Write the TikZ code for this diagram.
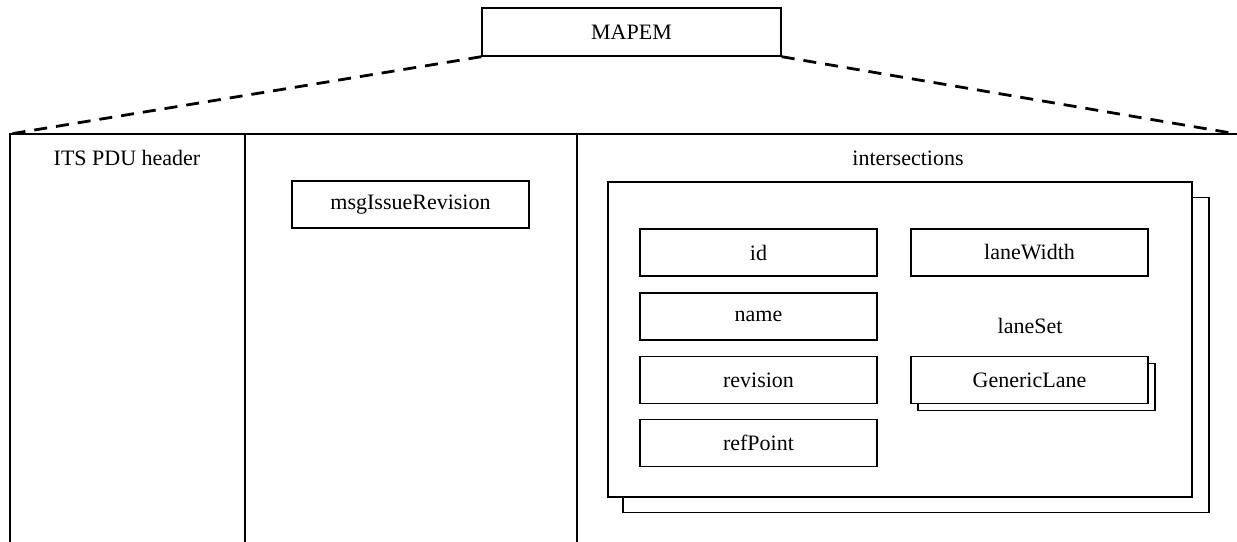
\documentclass[tikz,border=0pt]{standalone}
\usepackage{fontspec}
\setmainfont{Liberation Serif}
\begin{document}
\begin{tikzpicture}[x=1pt,y=-1pt,
  lbl/.style={font=\fontsize{22}{26}\selectfont, inner sep=0pt},
  fieldbox/.style={draw, line width=1.4pt, fill=white, minimum width=237pt, minimum height=47pt, inner sep=0pt, font=\fontsize{22}{26}\selectfont},
  framebox/.style={draw, line width=1.4pt, fill=white, inner sep=0pt},
  frameline/.style={line width=1.4pt},
  dashline/.style={line width=2.8pt, dash pattern=on 13pt off 9pt}]
\useasboundingbox (0,0) rectangle (1237,541);
% MAPEM
\node[fieldbox, minimum width=299pt, minimum height=48pt] (mapem) at (631.5,32) {MAPEM};
\coordinate (lt) at (10,134);
\coordinate (rt) at (1237,134);
\draw[dashline] (mapem.south west) -- (lt);
\draw[dashline] (mapem.south east) -- (rt);
% frame
\begin{scope}
\clip (0,0) rectangle (1237,541);
\draw[frameline] (1237,134) -- (lt) -- (10,545);
\draw[frameline] (245,134) -- (245,545);
\draw[frameline] (577,134) -- (577,545);
\end{scope}
\node[lbl] (its) at (127,158) {ITS PDU header};
\node[fieldbox] (msg) at (410.5,204.5) {msgIssueRevision};
\node[lbl] (inter) at (908,158) {intersections};
% intersections stacked box
\node[framebox, minimum width=586pt, minimum height=315pt] (interback) at (916,355) {};
\node[framebox, minimum width=584pt, minimum height=315pt] (interfront) at (900,339.5) {};
\node[fieldbox] (id) at (758.5,252.5) {id};
\node[fieldbox] (name) at (758.5,316.5) {name};
\node[fieldbox] (rev) at (758.5,380) {revision};
\node[fieldbox] (ref) at (758.5,443) {refPoint};
\node[fieldbox] (lw) at (1029.5,252.5) {laneWidth};
\node[lbl] (laneset) at (1030,326) {laneSet};
\node[fieldbox] (glback) at (1036.5,387) {};
\node[fieldbox] (gl) at (1029.5,380) {GenericLane};
\end{tikzpicture}
\end{document}
